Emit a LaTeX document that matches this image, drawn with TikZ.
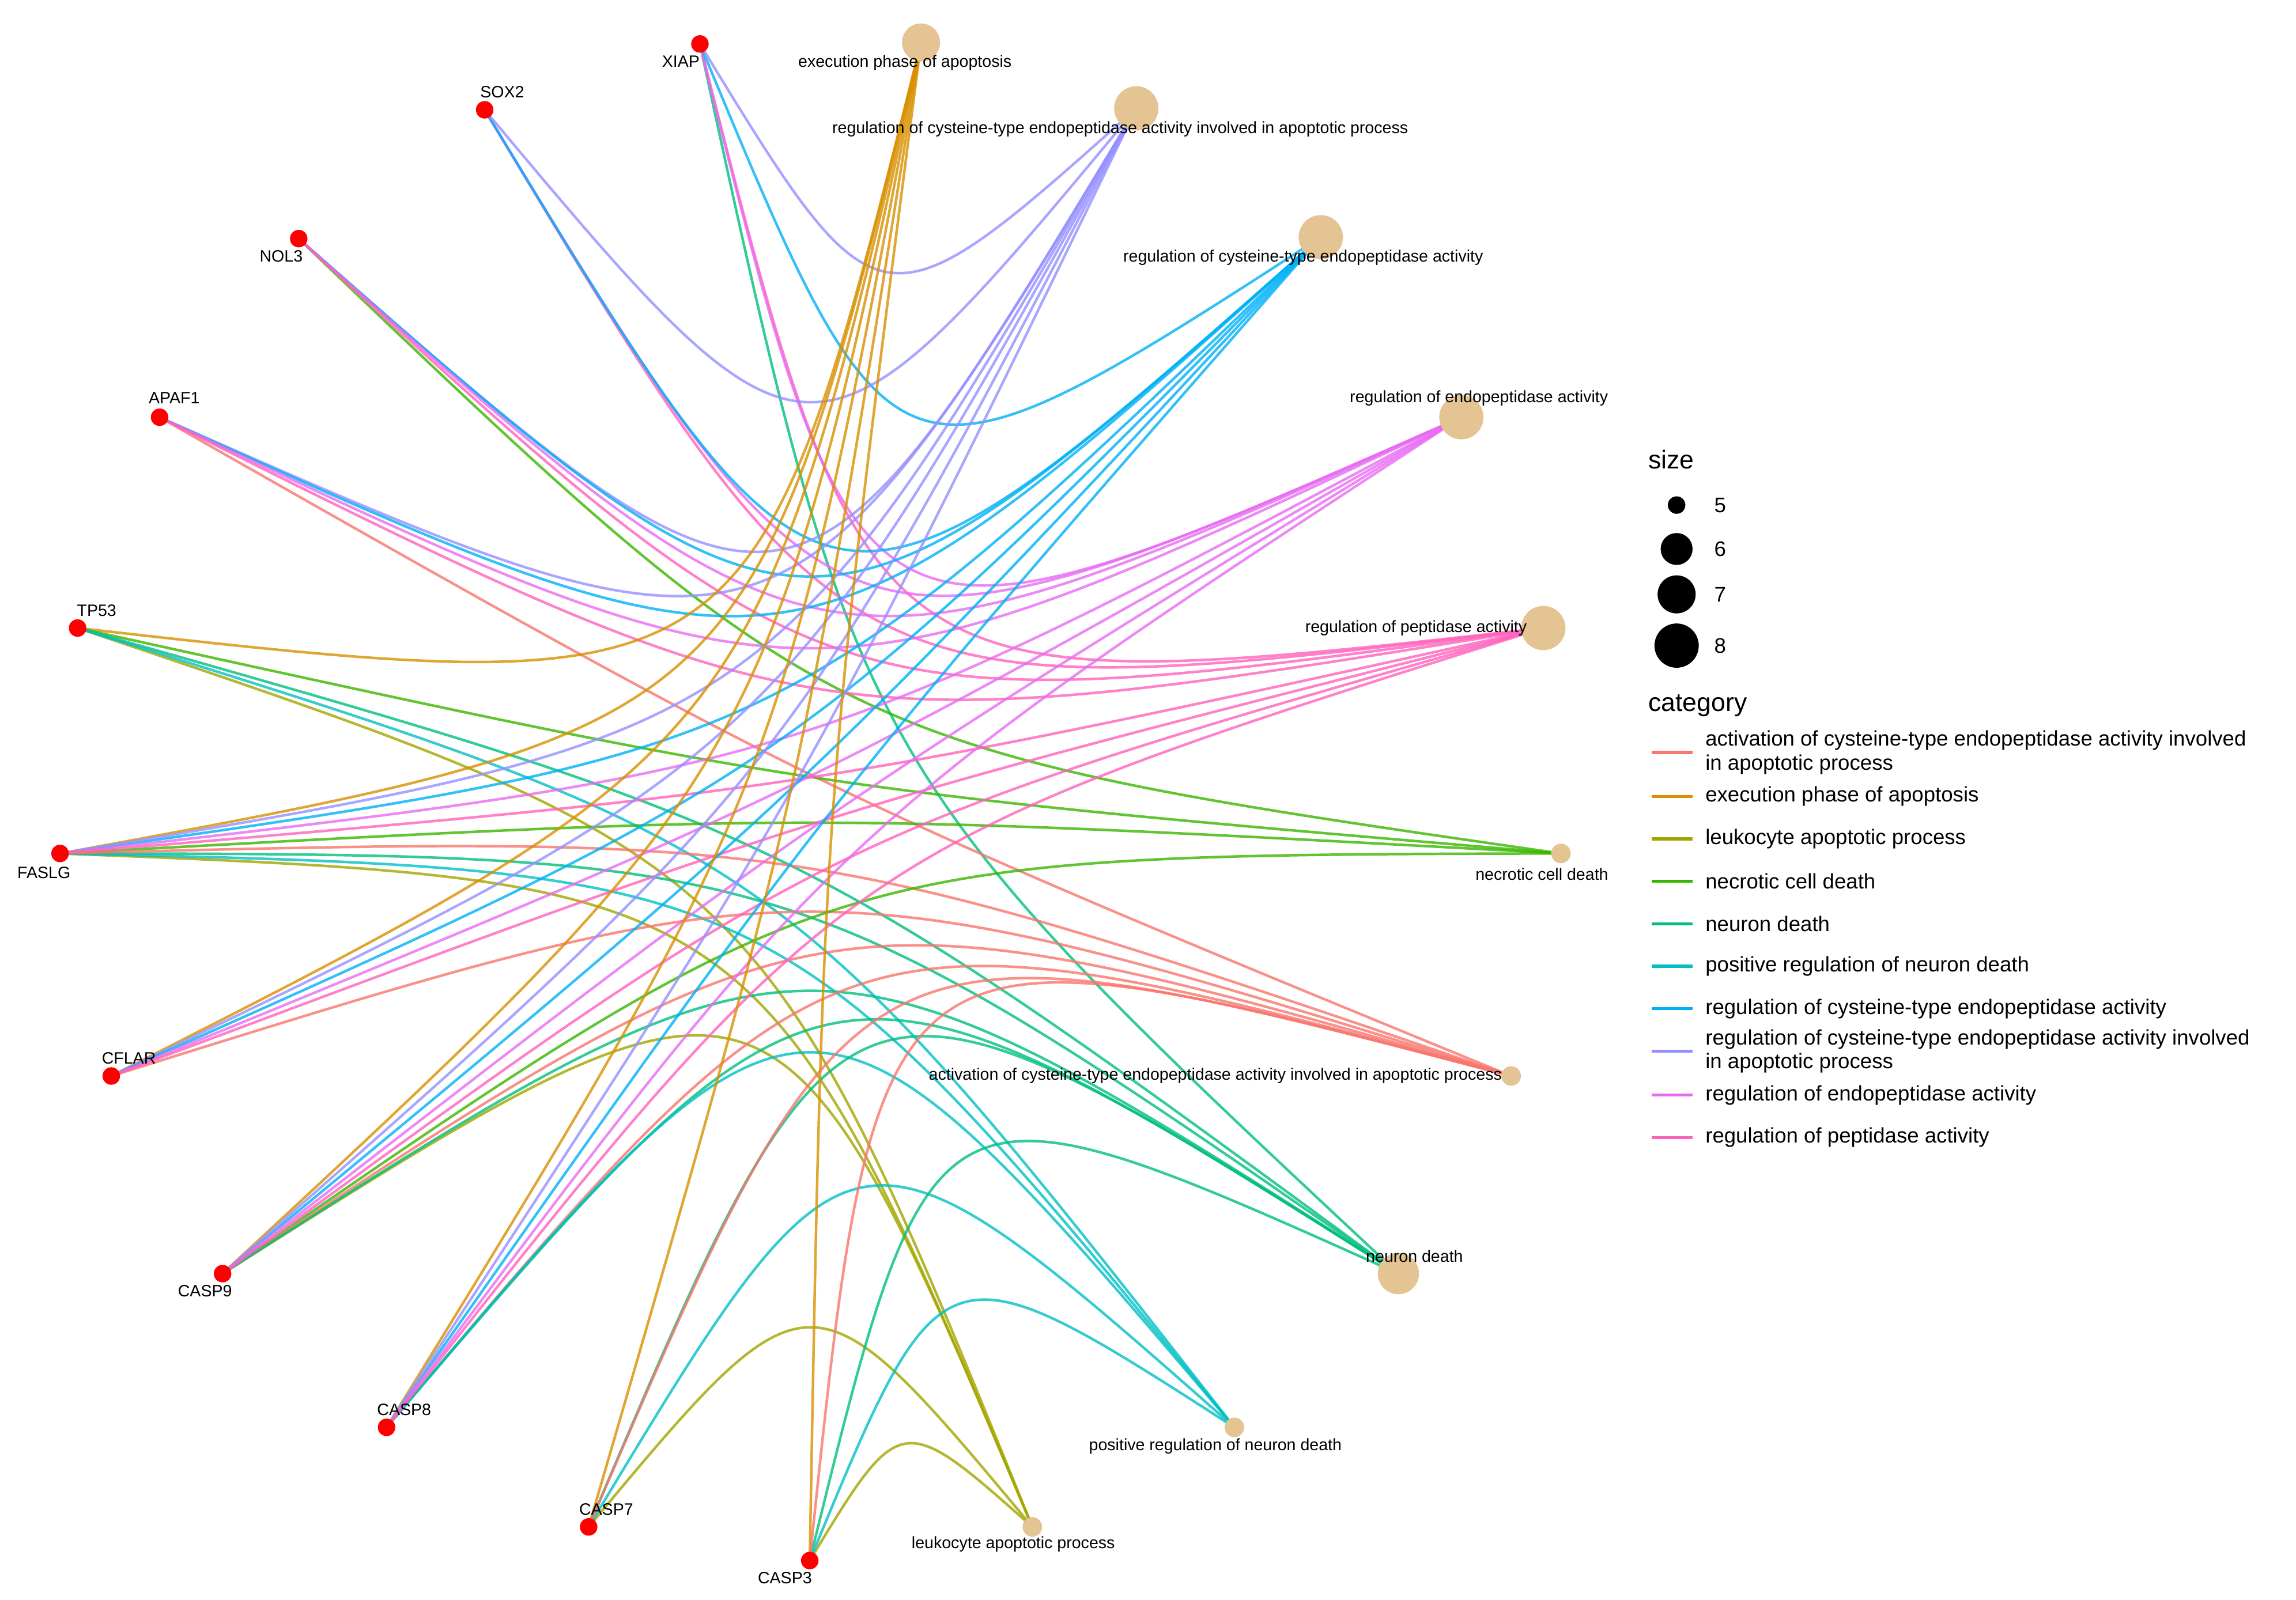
\documentclass[tikz,border=0pt]{standalone}
\usepackage{fontspec}
\setmainfont{Liberation Sans}
\usetikzlibrary{calc}
\definecolor{act}{HTML}{F8766D}
\definecolor{exe}{HTML}{D89000}
\definecolor{leu}{HTML}{A3A500}
\definecolor{nec}{HTML}{39B600}
\definecolor{nd}{HTML}{00BF7D}
\definecolor{prn}{HTML}{00BFC4}
\definecolor{rc}{HTML}{00B0F6}
\definecolor{rca}{HTML}{9590FF}
\definecolor{re}{HTML}{E76BF3}
\definecolor{rp}{HTML}{FF62BC}
\definecolor{tan}{RGB}{229,196,148}
\begin{document}
\begin{tikzpicture}[x=0.1mm,y=-0.1mm,
  gene/.style={circle,fill=red,inner sep=0pt,minimum size=3.4pt},
  term/.style={circle,fill=tan,inner sep=0pt,minimum size=#1},
  lab/.style={font=\fontsize{3.2}{3.6}\selectfont,inner sep=0pt},
  leg/.style={font=\fontsize{4.1}{4.6}\selectfont,inner sep=0pt,anchor=west,align=left},
  ttl/.style={font=\fontsize{5}{6}\selectfont,inner sep=0pt,anchor=west},
  ln/.style={line width=0.5pt,opacity=0.8}]
\useasboundingbox (0,0) rectangle (1568,1092.6);
\coordinate (ctr) at (555,548);
% genes
\path (478,30) coordinate (xiap) (331,75) coordinate (sox2) (204,163) coordinate (nol3)
 (109,285) coordinate (apaf1) (53,429) coordinate (tp53) (41,583) coordinate (faslg)
 (76,735) coordinate (cflar) (152,870) coordinate (casp9) (264,975) coordinate (casp8)
 (402,1043) coordinate (casp7) (553,1066) coordinate (casp3);
% terms
\path (629,29) coordinate (exe) (776,74) coordinate (rca) (902,162) coordinate (rc)
 (998,285) coordinate (re) (1054,429) coordinate (rp) (1066,583) coordinate (nec)
 (1032,735) coordinate (act) (955,870) coordinate (nd) (843,975) coordinate (prn)
 (705,1043) coordinate (leu);
\foreach \g/\t in {xiap/nd,xiap/rp,xiap/re,xiap/rc,xiap/rca,
 sox2/rp,sox2/re,sox2/rc,sox2/rca,
 nol3/nec,nol3/rca,nol3/rc,nol3/re,nol3/rp,
 apaf1/act,apaf1/rca,apaf1/rc,apaf1/re,apaf1/rp,
 tp53/exe,tp53/leu,tp53/nec,tp53/nd,tp53/prn,
 faslg/exe,faslg/leu,faslg/nec,faslg/nd,faslg/prn,faslg/rc,faslg/rca,faslg/re,faslg/rp,faslg/act,
 cflar/exe,cflar/act,cflar/rca,cflar/rc,cflar/re,cflar/rp,
 casp9/exe,casp9/leu,casp9/nec,casp9/act,casp9/nd,casp9/rc,casp9/rca,casp9/re,casp9/rp,
 casp8/exe,casp8/act,casp8/nd,casp8/prn,casp8/rc,casp8/rca,casp8/re,casp8/rp,
 casp7/exe,casp7/leu,casp7/nd,casp7/prn,casp7/act,
 casp3/exe,casp3/leu,casp3/nd,casp3/prn,casp3/act}
{\draw[ln,color=\t] let \p1=(\g), \p2=(\t), \p3=(ctr), \p4=($(\p1)!0.5!(\p2)$),
  \n1={veclen(\x2-\x1,\y2-\y1)}, \n2={veclen(\x3-\x4,\y3-\y4)},
  \n3={min(0.45*\n1,0.6*\n2)/0.75},
  \n4={((\y1-\y2)/100)*((\x3-\x4)/100)+((\x2-\x1)/100)*((\y3-\y4)/100)},
  \n5={ifthenelse(\n4>0,1,-1)*\n3/\n1} in
  (\p1) .. controls ({\x4+\n5*(\y1-\y2)},{\y4+\n5*(\x2-\x1)}) .. (\p2);}
% nodes
\foreach \g in {xiap,sox2,nol3,apaf1,tp53,faslg,cflar,casp9,casp8,casp7,casp3}
  \node[gene] (n\g) at (\g) {};
\foreach \t/\s in {exe/7.4pt,rca/8.6pt,rc/8.6pt,re/8.6pt,rp/8.6pt,nec/3.8pt,act/3.8pt,nd/8pt,prn/3.8pt,leu/3.8pt}
  \node[term=\s] (n\t) at (\t) {};
% labels
\node[lab] (l1) at (465,42) {XIAP};
\node[lab] (l2) at (343,63) {SOX2};
\node[lab] (l3) at (192,175) {NOL3};
\node[lab] (l4) at (119,272) {APAF1};
\node[lab] (l5) at (66,417) {TP53};
\node[lab] (l6) at (30,596) {FASLG};
\node[lab] (l7) at (88,723) {CFLAR};
\node[lab] (l8) at (140,882) {CASP9};
\node[lab] (l9) at (276,963) {CASP8};
\node[lab] (l10) at (414,1031) {CASP7};
\node[lab] (l11) at (536,1078) {CASP3};
\node[lab] (m1) at (618,43) {execution phase of apoptosis};
\node[lab] (m2) at (765,88) {regulation of cysteine-type endopeptidase activity involved in apoptotic process};
\node[lab] (m3) at (890,176) {regulation of cysteine-type endopeptidase activity};
\node[lab] (m4) at (1010,272) {regulation of endopeptidase activity};
\node[lab] (m5) at (967,429) {regulation of peptidase activity};
\node[lab] (m6) at (1053,597) {necrotic cell death};
\node[lab] (m7) at (830,735) {activation of cysteine-type endopeptidase activity involved in apoptotic process};
\node[lab] (m8) at (966,858) {neuron death};
\node[lab] (m9) at (830,988) {positive regulation of neuron death};
\node[lab] (m10) at (692,1055) {leukocyte apoptotic process};
% legend
\node[ttl] (sz) at (1125,314) {size};
\foreach \y/\r/\v in {345/3.4pt/5,375/6.2pt/6,406/7.4pt/7,441/8.6pt/8}{
  \node[circle,fill=black,inner sep=0pt,minimum size=\r] (s\v) at (1145,\y) {};
  \node[leg] (sl\v) at (1170,\y) {\v};}
\node[ttl] (ct) at (1125,482) {category};
\foreach \y/\c/\t in {
 514/act/{activation of cysteine-type endopeptidase activity involved\\in apoptotic process},
 544/exe/{execution phase of apoptosis},
 573/leu/{leukocyte apoptotic process},
 602/nec/{necrotic cell death},
 631/nd/{neuron death},
 660/prn/{positive regulation of neuron death},
 689/rc/{regulation of cysteine-type endopeptidase activity},
 718/rca/{regulation of cysteine-type endopeptidase activity involved\\in apoptotic process},
 748/re/{regulation of endopeptidase activity},
 777/rp/{regulation of peptidase activity}}{
  \coordinate (a\c) at (1128,\y); \coordinate (b\c) at (1156,\y);
  \draw[line width=0.6pt,color=\c] (a\c) -- (b\c);
  \node[leg] (t\c) at (1164,\y) {\t};}
\end{tikzpicture}
\end{document}
